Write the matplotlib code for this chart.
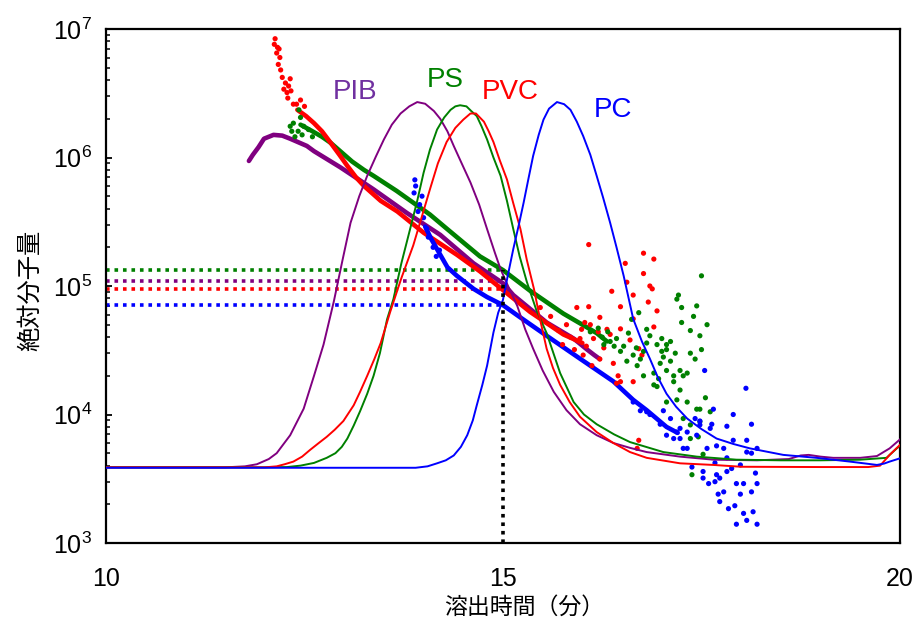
import matplotlib
matplotlib.use("Agg")
import matplotlib.pyplot as plt

plt.rcParams['font.family'] = ['Liberation Sans', 'DejaVu Sans']
plt.rcParams['mathtext.default'] = 'regular'

# ---- chromatograms (elution time [min], signal shown on the molar mass axis)
pib_t = [10.0, 11.5, 11.75, 11.9, 12.05, 12.15, 12.32, 12.49, 12.62, 12.74, 12.87, 12.98,
         13.08, 13.19, 13.29, 13.4, 13.5, 13.6, 13.71, 13.82, 13.92, 14.02, 14.13, 14.21,
         14.3, 14.38, 14.48, 14.59, 14.7, 14.8, 14.9, 14.97, 15.08, 15.18, 15.28, 15.38,
         15.5, 15.64, 15.8, 15.97, 16.18, 16.39, 16.6, 16.81, 17.23, 17.65, 18.2, 18.6,
         18.75, 18.85, 19.0, 19.16, 19.5, 19.71, 19.87, 20.0]
pib_h = [3.88e3, 3.88e3, 3.95e3, 4.1e3, 4.5e3, 5.0e3, 6.9e3, 1.11e4, 2.0e4, 3.5e4, 7.6e4, 1.6e5,
         3.1e5, 5.0e5, 7.2e5, 1.02e6, 1.38e6, 1.8e6, 2.2e6, 2.5e6, 2.7e6, 2.62e6, 2.3e6, 2.0e6,
         1.6e6, 1.23e6, 9.0e5, 6.4e5, 4.3e5, 2.77e5, 1.8e5, 1.35e5, 9.5e4, 7.0e4, 4.6e4, 3.25e4,
         2.2e4, 1.5e4, 1.08e4, 8.4e3, 6.9e3, 6.0e3, 5.5e3, 5.1e3, 4.7e3, 4.45e3, 4.4e3, 4.5e3,
         4.8e3, 4.85e3, 4.7e3, 4.6e3, 4.6e3, 4.75e3, 5.45e3, 6.4e3]

ps_t = [10.0, 12.0, 12.28, 12.45, 12.62, 12.78, 12.89, 12.97, 13.04, 13.12, 13.2, 13.29, 13.37,
        13.45, 13.54, 13.62, 13.72, 13.83, 13.92, 14.0, 14.08, 14.17, 14.26, 14.34, 14.4, 14.46,
        14.54, 14.6, 14.67, 14.73, 14.8, 14.88, 14.97, 15.05, 15.13, 15.21, 15.3, 15.42, 15.55,
        15.72, 15.89, 16.02, 16.18, 16.4, 16.6, 17.02, 17.44, 17.94, 18.5, 19.0, 19.5, 19.83,
        19.96, 20.0]
ps_h = [3.88e3, 3.88e3, 3.9e3, 4.0e3, 4.2e3, 4.6e3, 5.0e3, 5.6e3, 6.5e3, 8.2e3, 1.06e4, 1.45e4, 2.0e4,
        3.0e4, 5.5e4, 7.9e4, 1.5e5, 2.77e5, 4.6e5, 7.6e5, 1.15e6, 1.65e6, 2.05e6, 2.35e6, 2.5e6, 2.55e6,
        2.5e6, 2.3e6, 2.1e6, 1.75e6, 1.38e6, 1.0e6, 7.2e5, 4.6e5, 2.77e5, 1.7e5, 1.08e5, 6.5e4, 4.3e4,
        2.1e4, 1.25e4, 1.0e4, 8.4e3, 7.0e3, 6.1e3, 5.1e3, 4.7e3, 4.45e3, 4.4e3, 4.4e3, 4.45e3, 4.6e3,
        5.45e3, 5.7e3]

pvc_t = [10.0, 12.0, 12.15, 12.25, 12.36, 12.47, 12.57, 12.68, 12.78, 12.88, 12.99, 13.12, 13.2,
         13.29, 13.38, 13.46, 13.58, 13.72, 13.87, 13.98, 14.08, 14.18, 14.29, 14.4, 14.5, 14.59,
         14.66, 14.76, 14.82, 14.88, 14.96, 15.05, 15.13, 15.22, 15.3, 15.39, 15.47, 15.55, 15.63,
         15.72, 15.84, 15.97, 16.18, 16.39, 16.6, 16.81, 17.23, 17.65, 18.0, 19.0, 19.6, 19.75,
         19.87, 20.0]
pvc_h = [3.88e3, 3.88e3, 3.95e3, 4.1e3, 4.3e3, 4.7e3, 5.3e3, 6.0e3, 6.7e3, 7.6e3, 8.9e3, 1.18e4, 1.5e4,
         2.0e4, 2.7e4, 3.6e4, 6.3e4, 1.15e5, 2.07e5, 3.5e5, 5.65e5, 9.0e5, 1.32e6, 1.7e6, 1.97e6, 2.2e6,
         2.2e6, 1.9e6, 1.6e6, 1.32e6, 9.5e5, 6.75e5, 4.4e5, 2.77e5, 1.6e5, 9.5e4, 5.4e4, 3.25e4, 2.3e4,
         1.7e4, 1.25e4, 9.6e3, 7.3e3, 6.0e3, 5.1e3, 4.6e3, 4.17e3, 4.05e3, 3.92e3, 3.9e3, 3.9e3, 4.0e3,
         4.85e3, 5.8e3]

pc_t = [10.0, 13.9, 14.05, 14.17, 14.28, 14.38, 14.47, 14.55, 14.62, 14.67, 14.74, 14.8, 14.88,
        14.94, 15.0, 15.06, 15.13, 15.2, 15.26, 15.32, 15.38, 15.45, 15.51, 15.58, 15.68, 15.77,
        15.85, 15.93, 16.01, 16.1, 16.18, 16.26, 16.35, 16.43, 16.52, 16.64, 16.75, 16.85, 16.95,
        17.06, 17.18, 17.32, 17.5, 17.69, 17.9, 18.11, 18.53, 18.95, 19.37, 19.71, 19.8, 19.87, 20.0]
pc_h = [3.85e3, 3.85e3, 3.95e3, 4.17e3, 4.4e3, 4.8e3, 5.6e3, 6.9e3, 9.0e3, 1.18e4, 1.7e4, 2.4e4, 4.35e4,
        6.2e4, 7.8e4, 1.2e5, 1.94e5, 3.0e5, 4.45e5, 6.8e5, 1.03e6, 1.5e6, 1.97e6, 2.4e6, 2.7e6, 2.6e6,
        2.35e6, 1.9e6, 1.47e6, 1.05e6, 7.2e5, 4.9e5, 3.1e5, 2.0e5, 1.2e5, 5.55e4, 3.7e4, 2.72e4, 1.95e4,
        1.45e4, 1.15e4, 9.3e3, 7.7e3, 6.5e3, 5.9e3, 5.45e3, 4.85e3, 4.6e3, 4.3e3, 4.05e3, 4.15e3, 4.3e3,
        4.56e3]

# ---- absolute molar mass, dense part of each trace
pib_mt = [11.8, 11.85, 11.92, 11.99, 12.11, 12.22, 12.32, 12.53, 12.62, 12.95, 13.37, 13.79,
          14.21, 14.63, 15.0, 15.13, 15.55, 15.89, 16.06, 16.15, 16.22]
pib_m = [9.4e5, 1.05e6, 1.2e6, 1.4e6, 1.5e6, 1.48e6, 1.4e6, 1.23e6, 1.12e6, 8.4e5, 5.65e5, 3.7e5,
         2.5e5, 1.5e5, 1.05e5, 8.5e4, 5.2e4, 3.9e4, 3.2e4, 2.9e4, 2.7e4]

ps_mt = [12.45, 12.6, 12.72, 12.83, 12.95, 13.1, 13.25, 13.37, 13.66, 14.08, 14.29, 14.71, 15.0,
         15.34, 15.76, 16.0, 16.18, 16.31]
ps_m = [1.8e6, 1.6e6, 1.45e6, 1.3e6, 1.12e6, 9.3e5, 8.0e5, 7.2e5, 5.5e5, 3.6e5, 2.8e5, 1.7e5, 1.33e5,
        9.2e4, 6.1e4, 5.0e4, 4.3e4, 3.7e4]

pvc_mt = [12.41, 12.52, 12.62, 12.72, 12.83, 12.94, 13.04, 13.15, 13.25, 13.46, 13.67, 14.0, 14.42,
          14.71, 15.0, 15.34, 15.76, 16.0]
pvc_m = [2.35e6, 2.1e6, 1.85e6, 1.6e6, 1.3e6, 1.05e6, 8.6e5, 7.0e5, 6.0e5, 4.6e5, 3.8e5, 2.6e5, 1.75e5,
         1.3e5, 9.3e4, 6.3e4, 4.2e4, 3.6e4]

pc_mt = [14.02, 14.1, 14.21, 14.3, 14.42, 14.63, 14.8, 15.0, 15.2, 15.55, 15.97, 16.39, 16.64,
         16.81, 17.06, 17.2]
pc_m = [2.9e5, 2.3e5, 1.75e5, 1.4e5, 1.2e5, 9.5e4, 8.2e4, 7.1e4, 5.8e4, 4.1e4, 2.72e4, 1.81e4, 1.3e4,
        1.08e4, 8.0e3, 7.2e3]

# ---- absolute molar mass, scattered points
pvc_sx = [12.13, 12.12, 12.16, 12.18, 12.15, 12.19, 12.17, 12.2, 12.22, 12.32, 12.26, 12.24, 12.3,
          12.28, 12.33, 12.29, 12.45, 12.36, 12.4, 12.5,
          16.08, 16.77, 16.9, 16.54, 16.77, 16.56, 16.85, 16.88, 16.37, 16.64, 15.93, 16.08, 16.48,
          16.22, 15.47, 15.6, 16.94, 16.48, 16.31, 16.35, 15.97, 16.14, 16.01, 16.22, 16.39, 16.48,
          16.64, 16.9, 16.71, 16.45, 16.43, 16.71, 16.69, 16.64, 15.75, 15.85, 15.9, 15.7, 16.1,
          16.2, 16.6, 16.75, 15.8, 16.05, 16.12, 15.99, 16.27, 16.03, 16.83]
pvc_sy = [8.4e6, 7.6e6, 7.2e6, 7.0e6, 6.5e6, 6.0e6, 5.3e6, 4.8e6, 4.2e6, 4.1e6, 3.8e6, 3.4e6, 3.6e6,
          3.2e6, 3.3e6, 2.9e6, 2.8e6, 2.6e6, 2.6e6, 2.5e6,
          2.1e5, 1.8e5, 1.62e5, 1.5e5, 1.25e5, 1.07e5, 1.0e5, 9.5e4, 9.1e4, 8.5e4, 6.8e4, 6.9e4, 6.9e4,
          5.7e4, 6.8e4, 5.8e4, 6.4e4, 4.64e4, 4.6e4, 4.2e4, 3.9e4, 3.9e4, 2.9e4, 2.7e4, 2.5e4, 1.8e4,
          1.8e4, 4.8e4, 3.25e4, 2.0e4, 1.75e4, 6.3e3, 5.45e3, 5.55e4, 3.5e4, 4.0e4, 3.2e4, 4.5e4, 5.0e4,
          4.4e4, 3.8e4, 2.9e4, 5.0e4, 3.4e4, 2.4e4, 4.6e4, 3.3e4, 5.2e4, 7.5e4]

ps_sx = [12.34, 12.36, 12.43, 12.45, 12.49, 12.32, 12.42, 12.55, 12.38, 12.47, 12.6,
         17.5, 17.21, 17.25, 17.44, 17.57, 17.25, 17.36, 17.48, 17.0, 17.11, 17.5, 17.36, 17.42,
         17.17, 17.06, 16.94, 16.98, 17.11, 17.23, 17.06, 17.32, 17.27, 17.15, 16.9, 16.94, 17.23,
         17.55, 17.48, 17.19, 17.06, 17.32, 17.44, 17.27, 17.36, 17.48, 17.61, 17.36, 17.46, 17.52,
         17.38, 16.27, 16.35, 16.43, 16.48, 16.56, 16.64, 16.69, 16.73, 16.77, 16.81, 16.85, 16.9,
         16.96, 16.77, 16.71, 16.62, 16.81, 17.0, 17.06, 16.1, 16.2, 16.25, 16.32, 16.4, 16.52,
         17.19, 17.4, 16.58, 16.68, 17.02, 17.15]
ps_sy = [1.6e6, 1.85e6, 2.35e6, 2.05e6, 1.75e6, 1.75e6, 1.6e6, 1.65e6, 1.45e6, 1.5e6, 1.45e6,
         1.2e5, 8.5e4, 6.8e4, 7.0e4, 5.0e4, 5.2e4, 4.5e4, 4.1e4, 3.9e4, 3.7e4, 3.2e4, 3.0e4, 2.7e4,
         3.0e4, 3.2e4, 3.5e4, 2.5e4, 2.6e4, 2.2e4, 2.2e4, 2.1e4, 2.0e4, 2.0e4, 1.7e4, 1.65e4, 1.55e4,
         1.35e4, 1.1e4, 1.3e4, 1.25e4, 1.25e4, 1.1e4, 9.3e3, 8.3e3, 8.8e3, 1.05e4, 6.5e3, 6.7e3, 4.9e3,
         3.4e3, 3.5e4, 3.7e4, 3.9e4, 3.1e4, 2.6e4, 2.9e4, 2.4e4, 2.7e4, 3.1e4, 3.6e4, 4.1e4, 2.1e4,
         1.9e4, 2.0e4, 6.2e4, 5.5e4, 4.6e4, 3.1e4, 3.5e4, 4.4e4, 4.7e4, 4.0e4, 4.4e4, 3.4e4, 3.4e4,
         7.9e4, 5.8e4, 4.3e4, 3.3e4, 2.8e4, 1.8e4]

pc_sx = [13.89, 13.9, 13.88, 13.98, 13.95, 13.93, 14.0, 14.04, 14.06, 14.12, 14.2, 14.16,
         18.06, 17.54, 17.9, 18.13, 17.82, 17.65, 17.48, 17.63, 18.07, 17.9, 18.2, 17.69, 17.57,
         17.78, 17.44, 17.32, 17.23, 17.15, 17.27, 17.38, 17.52, 17.59, 17.67, 17.69, 17.73, 17.78,
         17.82, 17.88, 17.94, 17.99, 18.03, 18.13, 18.2, 18.18, 17.73, 17.84, 17.92, 18.03, 18.07,
         17.94, 18.2, 18.15, 17.71, 17.52, 16.85, 16.98, 17.06, 17.19, 17.23, 17.32, 17.11, 16.81,
         17.02, 16.64, 16.73, 17.42, 17.48, 17.61, 17.82, 17.99, 18.07, 18.13, 17.67]
pc_sy = [6.7e5, 6.0e5, 5.3e5, 5.0e5, 4.3e5, 3.8e5, 3.4e5, 2.8e5, 2.4e5, 2.0e5, 1.9e5, 1.7e5,
         1.6e4, 2.2e4, 1.0e4, 8.4e3, 8.1e3, 1.1e4, 8.9e3, 8.4e3, 6.3e3, 6.3e3, 5.45e3, 5.7e3, 5.45e3,
         5.45e3, 6.9e3, 7.3e3, 7.8e3, 6.5e3, 5.45e3, 3.9e3, 3.6e3, 2.9e3, 3.0e3, 3.4e3, 3.2e3, 2.5e3,
         3.6e3, 3.8e3, 2.9e3, 2.4e3, 2.9e3, 2.5e3, 2.9e3, 3.5e3, 2.1e3, 1.85e3, 1.95e3, 1.7e3, 1.5e3,
         1.4e3, 1.4e3, 1.75e3, 2.4e3, 3.2e3, 1.0e4, 8.4e3, 6.9e3, 7.3e3, 6.5e3, 5.45e3, 9.3e3, 1.05e4,
         1.07e4, 1.25e4, 1.07e4, 9.3e3, 8.3e3, 7.8e3, 4.6e3, 4.05e3, 5.1e3, 5.0e3, 4.2e3]

# molar mass read at 15 min
ref_time = 15.0
levels = [1.33e5, 1.09e5, 9.5e4, 7.1e4]   # PS, PIB, PVC, PC

names = ['PIB', 'PS', 'PVC', 'PC']
label_x = [13.14, 14.27, 15.09, 16.38]
label_y = [3.25e6, 4.03e6, 3.25e6, 2.35e6]

purple, green, red, blue = '#800080', '#008000', '#FF0000', '#0000FF'

fig = plt.figure(figsize=(9.16, 6.25), dpi=100)
ax = fig.add_axes([0.1157, 0.1312, 0.8668, 0.8224])

# dotted guide lines
for lv, c in zip(levels, [green, purple, red, blue]):
    ax.plot([10, ref_time], [lv, lv], color=c, lw=2.6, dashes=(1, 1.35),
            dash_capstyle='butt', zorder=2)
ax.plot([ref_time, ref_time], [1e3, max(levels)], color='black', lw=2.6,
        dashes=(1, 1.35), dash_capstyle='butt', zorder=6)

# molar mass traces
for t, m, c in [(pib_mt, pib_m, purple), (ps_mt, ps_m, green),
                (pvc_mt, pvc_m, red), (pc_mt, pc_m, blue)]:
    ax.plot(t, m, color=c, lw=3.3, solid_capstyle='round', zorder=3)
for sx, sy, c in [(pvc_sx, pvc_sy, red), (ps_sx, ps_sy, green), (pc_sx, pc_sy, blue)]:
    ax.scatter(sx, sy, s=14, color=c, edgecolors='none', zorder=3)

# chromatograms
for t, h, c in [(pib_t, pib_h, purple), (ps_t, ps_h, green),
                (pvc_t, pvc_h, red), (pc_t, pc_h, blue)]:
    ax.plot(t, h, color=c, lw=1.4, zorder=4)

for n, x, y, c in zip(names, label_x, label_y, ['#7030A0', green, red, blue]):
    ax.text(x, y, n, color=c, fontsize=20, ha='center', va='center')

ax.set_yscale('log')
ax.set_xlim(10, 20)
ax.set_ylim(1e3, 1e7)
ax.set_xticks([10, 15, 20])
ax.set_xticklabels(['10', '15', '20'])
ax.set_yticks([1e3, 1e4, 1e5, 1e6, 1e7])
ax.set_yticklabels(['10$^{3}$', '10$^{4}$', '10$^{5}$', '10$^{6}$', '10$^{7}$'])
ax.tick_params(axis='x', length=0, pad=17, labelsize=18)
ax.tick_params(axis='y', which='major', direction='in', length=4, width=1.3, pad=10, labelsize=18)
ax.tick_params(axis='y', which='minor', direction='in', length=3, width=1.1)
for s in ax.spines.values():
    s.set_linewidth(1.6)

fig.text(0.572, 1 - 607 / 625, '溶出時間（分）', fontsize=16.5, ha='center', va='center',
         family=['Noto Sans CJK JP', 'DejaVu Sans'])
fig.text(30 / 916, 1 - 290 / 625, '絶対分子量', fontsize=17.5, ha='center', va='center',
         rotation=90, family=['Noto Sans CJK JP', 'DejaVu Sans'])

fig.savefig('out.png', dpi=100)
